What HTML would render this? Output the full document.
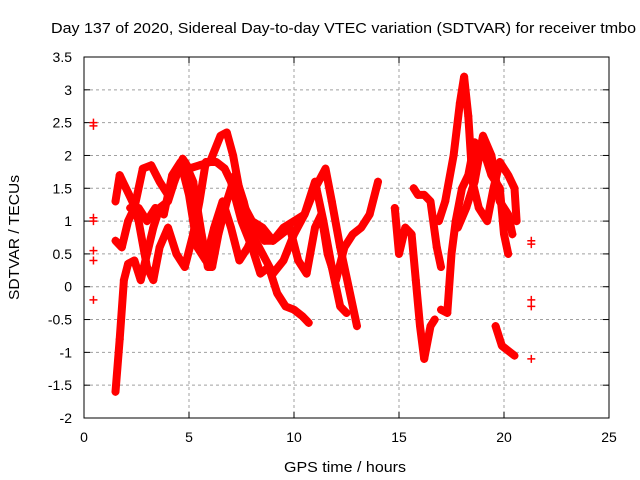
<!DOCTYPE html>
<html><head><meta charset="utf-8"><style>
body{margin:0;background:#fff}
svg{display:block;font-family:"Liberation Sans",sans-serif}
</style></head><body>
<svg id="chart" width="640" height="480" viewBox="0 0 640 480" xmlns="http://www.w3.org/2000/svg">
<rect width="640" height="480" fill="#fff"/>
<text x="51" y="33" font-size="15" textLength="585" lengthAdjust="spacingAndGlyphs" fill="#000">Day 137 of 2020, Sidereal Day-to-day VTEC variation (SDTVAR) for receiver tmbo</text>
<text x="284" y="472" font-size="15" textLength="122" lengthAdjust="spacingAndGlyphs">GPS time / hours</text>
<text transform="translate(19,300) rotate(-90)" font-size="15" textLength="125" lengthAdjust="spacingAndGlyphs">SDTVAR / TECUs</text>
<g id="grid"></g>
<g id="ticks"></g>
<g id="marks"></g>
<rect x="84" y="57" width="525" height="361" fill="none" stroke="#000" stroke-width="1"/>
</svg>
<script>
const xTicks=[0,5,10,15,20,25];
const yTicks=[-2,-1.5,-1,-0.5,0,0.5,1,1.5,2,2.5,3,3.5];
const s0=[[0.45,2.5],[0.45,2.45],[0.45,1.05],[0.45,1.0],[0.45,0.55],[0.45,0.4],[0.45,-0.2]];
const s1=[[1.5,-1.6],[1.7,-0.8],[1.9,0.1],[2.1,0.35],[2.4,0.4],[2.7,0.1],[3.0,0.5],[3.3,0.9],[3.6,1.2],[4.0,1.3],[4.3,1.6],[4.7,1.95],[5.0,1.8],[5.5,1.85],[6.0,1.9],[6.5,2.3],[6.8,2.35],[7.1,2.0],[7.5,1.3],[8.0,1.0],[8.5,0.9],[9.0,0.7],[9.5,0.9],[10,1.0],[10.5,1.1],[11.0,1.5],[11.5,1.8],[11.8,1.3],[12.2,0.6],[12.6,0.0],[13.0,-0.6]];
const s2=[[1.5,1.3],[1.7,1.7],[2.0,1.5],[2.3,1.3],[2.6,1.0],[3.0,0.3],[3.3,0.1],[3.6,0.6],[4.0,0.9],[4.4,0.5],[4.8,0.3],[5.2,0.8],[5.5,1.3],[5.8,1.9],[6.3,1.9],[6.7,1.8],[7.0,1.6],[7.5,1.0],[8.0,0.6],[8.4,0.2],[8.8,0.3],[9.2,-0.1],[9.6,-0.3],[10,-0.35],[10.4,-0.45],[10.7,-0.55]];
const s3=[[1.5,0.7],[1.8,0.6],[2.1,1.0],[2.4,1.2],[2.8,1.8],[3.2,1.85],[3.6,1.6],[4.0,1.4],[4.4,1.7],[4.8,1.9],[5.2,1.6],[5.6,0.8],[5.9,0.3],[6.1,0.3],[6.4,0.8],[6.8,1.3],[7.2,1.7],[7.6,1.3],[8.0,0.8],[8.5,0.5],[9.0,0.2],[9.5,0.4],[10,0.8],[10.5,1.1],[11.0,1.6],[11.4,1.0],[11.8,0.3],[12.2,-0.3],[12.5,-0.4]];
const s4=[[2.2,1.2],[2.6,1.2],[3.0,1.0],[3.4,1.2],[3.8,1.1],[4.2,1.7],[4.6,1.9],[5.0,1.4],[5.4,0.6],[5.8,0.4],[6.2,0.9],[6.6,1.3],[7.0,0.9],[7.4,0.4],[7.8,0.6],[8.2,0.9],[8.6,0.7],[9.0,0.7],[9.4,0.8],[9.8,0.9],[10.2,0.4],[10.6,0.2],[11.0,0.9],[11.3,1.1],[11.6,0.5],[12.0,0.1],[12.4,0.6],[12.8,0.8],[13.2,0.9],[13.6,1.1],[14.0,1.6]];
const s5=[[14.8,1.2],[15.0,0.5],[15.3,0.9],[15.6,0.8],[15.8,0.1],[16.0,-0.6],[16.2,-1.1],[16.5,-0.6],[16.7,-0.5]];
const s6=[[15.7,1.5],[15.9,1.4],[16.2,1.4],[16.5,1.3],[16.8,0.6],[17.0,0.3]];
const s7=[[17.0,-0.35],[17.3,-0.4],[17.5,0.5],[17.7,1.0],[18.0,1.5],[18.3,1.7],[18.6,2.2],[19.0,2.1],[19.4,1.7],[19.8,1.5],[20.0,0.8],[20.2,0.5]];
const s8=[[16.9,1.0],[17.2,1.3],[17.6,2.0],[17.9,2.8],[18.1,3.2],[18.3,2.6],[18.5,1.6],[18.8,1.2],[19.2,1.0],[19.5,1.5],[19.8,1.9],[20.2,1.7],[20.5,1.5],[20.6,1.0]];
const s9=[[17.8,0.9],[18.2,1.2],[18.6,1.6],[19.0,2.3],[19.4,2.0],[19.8,1.3],[20.2,1.1],[20.4,0.8]];
const s10=[[19.6,-0.6],[19.9,-0.9],[20.3,-1.0],[20.5,-1.05]];
const s11=[[21.3,0.7],[21.3,0.65],[21.3,-0.2],[21.3,-0.3],[21.3,-1.1]];
const series=[s1,s2,s3,s4,s5,s6,s7,s8,s9,s10];
const points=[s0,s11];

const NS="http://www.w3.org/2000/svg";
const X=t=>84+t*21;
const Y=v=>418-(v+2)*(361/5.5);
function mk(tag,attrs,parent){const e=document.createElementNS(NS,tag);for(const k in attrs)e.setAttribute(k,attrs[k]);parent.appendChild(e);return e;}
const grid=document.getElementById('grid'),ticks=document.getElementById('ticks'),marks=document.getElementById('marks');
xTicks.forEach(t=>{
  if(t>0&&t<25){const l=mk('line',{x1:X(t),x2:X(t),y1:57,y2:418,stroke:'#a0a0a0','stroke-dasharray':'3,3'},grid);
  
  }
  mk('line',{x1:X(t),x2:X(t),y1:418,y2:412,stroke:'#000'},ticks);
  mk('line',{x1:X(t),x2:X(t),y1:57,y2:63,stroke:'#000'},ticks);
  const tx=mk('text',{x:X(t),y:442,'font-size':14,'text-anchor':'middle'},ticks);tx.textContent=t;
  
  
});
yTicks.forEach(v=>{
  if(v>-2&&v<3.5){const l=mk('line',{x1:84,x2:609,y1:Y(v),y2:Y(v),stroke:'#a0a0a0','stroke-dasharray':'3,3'},grid);
  
  }
  mk('line',{x1:84,x2:90,y1:Y(v),y2:Y(v),stroke:'#000'},ticks);
  mk('line',{x1:609,x2:603,y1:Y(v),y2:Y(v),stroke:'#000'},ticks);
  const tx=mk('text',{x:72,y:Y(v)+5,'font-size':14,'text-anchor':'end'},ticks);tx.textContent=v;
  
  
});
function plus(t,v){const p=mk('path',{d:`M${X(t)-4},${Y(v)}h8M${X(t)},${Y(v)-4}v8`,stroke:'#f00','stroke-width':1.5,fill:'none'},marks);
  
  }
series.forEach((s,i)=>{
  const pl=mk('polyline',{points:s.map(p=>X(p[0])+','+Y(p[1])).join(' '),fill:'none',stroke:'#f00','stroke-width':8,'stroke-linejoin':'round','stroke-linecap':'round'},marks);
  
  
  s.forEach(p=>plus(p[0],p[1]));
});
points.forEach(s=>s.forEach(p=>plus(p[0],p[1])));
</script>
</body></html>
